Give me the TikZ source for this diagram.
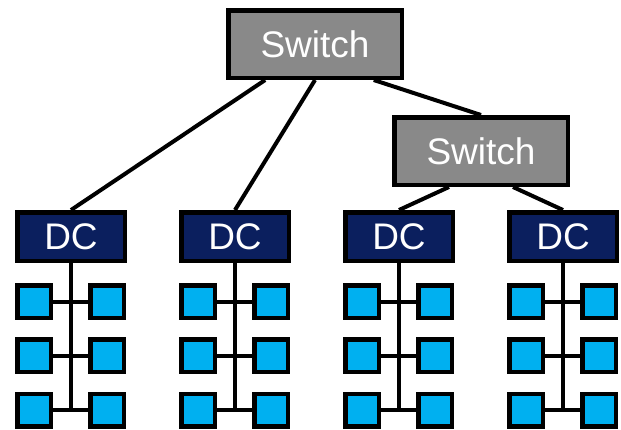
\documentclass[tikz,border=0pt]{standalone}
\usepackage{fontspec}
\setmainfont{Liberation Sans}
\usetikzlibrary{calc}
\definecolor{swgray}{HTML}{898989}
\definecolor{dcnavy}{HTML}{0B1F5E}
\definecolor{hostblue}{HTML}{00B0F0}
\begin{document}
\begin{tikzpicture}[x=1pt,y=-1pt,
  switchbox/.style={draw=black,line width=4.5pt,fill=swgray,minimum width=173.5pt,minimum height=67.5pt,text=white,font=\fontsize{37}{40}\selectfont,inner sep=0pt},
  dcbox/.style={draw=black,line width=4.5pt,fill=dcnavy,minimum width=107.5pt,minimum height=48.5pt,text=white,font=\fontsize{37}{40}\selectfont,inner sep=0pt},
  hostbox/.style={draw=black,line width=4.5pt,fill=hostblue,minimum width=33.5pt,minimum height=32.5pt,inner sep=0pt},
  link/.style={line width=4pt,black}]
\useasboundingbox (0,0) rectangle (621,429);

% switches
\node[switchbox] (sw1) at (315,44) {Switch};
\node[switchbox] (sw2) at (481,151) {Switch};

% data centres with their host racks
\foreach \i/\cx in {1/71,2/235,3/399,4/563}{
  \node[dcbox] (dc\i) at (\cx,236.5) {DC};
  \foreach \r/\cy in {a/301.5,b/355.5,c/410}{
    \node[hostbox] (h\i\r L) at (\cx-37,\cy) {};
    \node[hostbox] (h\i\r R) at (\cx+36,\cy) {};
    \draw[link] (h\i\r L.east) -- (h\i\r R.west);
  }
  \draw[link] (dc\i.south) -- (dc\i.south |- h\i cL.east);
}

% uplinks
\draw[link] ($(sw1.south west)!0.22!(sw1.south east)$) -- (dc1.north);
\draw[link] ($(sw1.south west)!0.5!(sw1.south east)$) -- (dc2.north);
\draw[link] ($(sw1.south west)!0.83!(sw1.south east)$) -- (sw2.north);
\draw[link] ($(sw2.south west)!0.32!(sw2.south east)$) -- (dc3.north);
\draw[link] ($(sw2.south west)!0.68!(sw2.south east)$) -- (dc4.north);
\end{tikzpicture}
\end{document}
